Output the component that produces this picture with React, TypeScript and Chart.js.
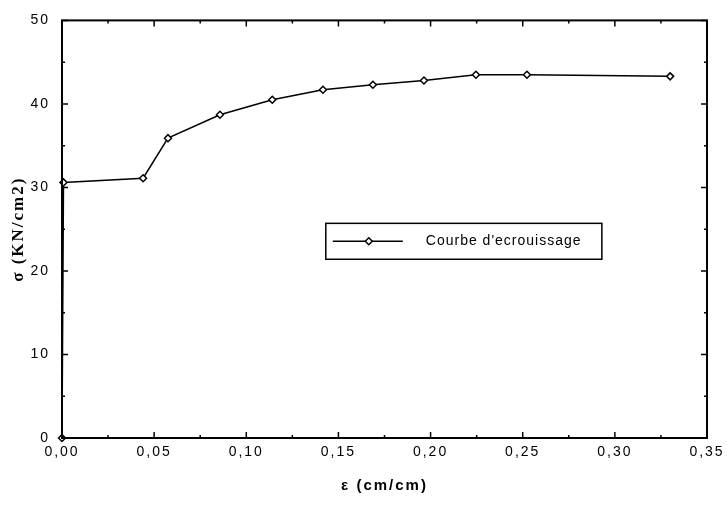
import React, { useEffect, useRef } from "react";
import { Chart, registerables } from "chart.js";

Chart.register(...registerables);

const strain = [0, 0.0008, 0.044, 0.0575, 0.0857, 0.1141, 0.1416, 0.1687, 0.1964, 0.2246, 0.2523, 0.33];
const stress = [0, 30.6, 31.1, 35.9, 38.7, 40.5, 41.7, 42.3, 42.8, 43.5, 43.5, 43.3];
const seriesLabel = "Courbe d'ecrouissage";
const xTitle = "ε (cm/cm)";
const yTitle = "σ (KN/cm2)";
const xMajor = [0, 0.05, 0.1, 0.15, 0.2, 0.25, 0.3, 0.35];
const xMinor = [0.025, 0.075, 0.125, 0.175, 0.225, 0.275, 0.325];
const yMajor = [0, 10, 20, 30, 40, 50];
const yMinor = [5, 15, 25, 35, 45];

const framePlugin = {
  id: "frameTicks",
  beforeDraw(chart: any) {
    chart.ctx.letterSpacing = "2px";
  },
  afterDatasetsDraw(chart: any) {
    const { ctx, chartArea: a, scales } = chart;
    const xs = scales.x;
    const ys = scales.y;
    ctx.save();
    ctx.strokeStyle = "#000";
    ctx.lineWidth = 1.5;
    ctx.beginPath();
    xMajor.forEach((v) => {
      const px = xs.getPixelForValue(v);
      ctx.moveTo(px, a.bottom); ctx.lineTo(px, a.bottom - 6);
      ctx.moveTo(px, a.top); ctx.lineTo(px, a.top + 6);
    });
    xMinor.forEach((v) => {
      const px = xs.getPixelForValue(v);
      ctx.moveTo(px, a.bottom); ctx.lineTo(px, a.bottom - 3);
      ctx.moveTo(px, a.top); ctx.lineTo(px, a.top + 3);
    });
    yMajor.forEach((v) => {
      const py = ys.getPixelForValue(v);
      ctx.moveTo(a.left, py); ctx.lineTo(a.left + 6, py);
      ctx.moveTo(a.right, py); ctx.lineTo(a.right - 6, py);
    });
    yMinor.forEach((v) => {
      const py = ys.getPixelForValue(v);
      ctx.moveTo(a.left, py); ctx.lineTo(a.left + 3, py);
      ctx.moveTo(a.right, py); ctx.lineTo(a.right - 3, py);
    });
    ctx.stroke();
    ctx.lineWidth = 2;
    ctx.strokeRect(a.left, a.top, a.right - a.left, a.bottom - a.top);

    // legend box
    const w = a.right - a.left;
    const h = a.bottom - a.top;
    const bx0 = a.left + 0.409 * w;
    const bx1 = a.left + 0.837 * w;
    const by0 = a.top + 0.486 * h;
    const by1 = a.top + 0.572 * h;
    ctx.lineWidth = 1.5;
    ctx.strokeRect(bx0, by0, bx1 - bx0, by1 - by0);
    const my = (by0 + by1) / 2;
    ctx.beginPath();
    ctx.moveTo(bx0 + 7, my);
    ctx.lineTo(bx0 + 77, my);
    ctx.stroke();
    const mx = bx0 + 43;
    ctx.beginPath();
    ctx.moveTo(mx, my - 3.5);
    ctx.lineTo(mx + 3.5, my);
    ctx.lineTo(mx, my + 3.5);
    ctx.lineTo(mx - 3.5, my);
    ctx.closePath();
    ctx.fillStyle = "#fff";
    ctx.fill();
    ctx.stroke();
    ctx.letterSpacing = "1px";
    ctx.fillStyle = "#000";
    ctx.font = "14px 'Liberation Sans', Arial, sans-serif";
    ctx.textAlign = "left";
    ctx.textBaseline = "middle";
    ctx.fillText(seriesLabel, bx0 + 100, my);
    ctx.restore();
  },
};

export default function App() {
  const ref = useRef<HTMLCanvasElement | null>(null);
  useEffect(() => {
    if (!ref.current) return;
    const chart = new Chart(ref.current, {
      type: "line",
      data: {
        labels: strain,
        datasets: [
          {
            label: seriesLabel,
            data: strain.map((x, i) => ({ x, y: stress[i] })),
            borderColor: "#000",
            borderWidth: 1.5,
            pointStyle: "rectRot",
            pointRadius: 3.5,
            pointBackgroundColor: "#fff",
            pointBorderColor: "#000",
            pointBorderWidth: 1.5,
            tension: 0,
            clip: false,
          } as any,
        ],
      },
      options: {
        animation: false,
        responsive: true,
        maintainAspectRatio: false,
        layout: { padding: { top: 10, right: 20, left: 0, bottom: 0 } },
        plugins: { legend: { display: false }, tooltip: { enabled: false } },
        scales: {
          x: {
            type: "linear",
            min: 0,
            max: 0.35,
            grid: { display: false, drawTicks: false },
            border: { display: false },
            ticks: {
              stepSize: 0.05,
              padding: 6,
              color: "#000",
              maxRotation: 0,
              autoSkip: false,
              font: { family: "'Liberation Sans', Arial, sans-serif", size: 14 },
              callback: (v: any) => Number(v).toFixed(2).replace(".", ","),
            },
            title: {
              display: true,
              text: xTitle,
              color: "#000",
              padding: { top: 0, bottom: 12 },
              font: { family: "'Liberation Sans', Arial, sans-serif", size: 15, weight: "bold" },
            },
            afterFit: (s: any) => { s.height = 69; },
          },
          y: {
            type: "linear",
            min: 0,
            max: 50,
            grid: { display: false, drawTicks: false },
            border: { display: false },
            ticks: {
              stepSize: 10,
              padding: 12,
              color: "#000",
              font: { family: "'Liberation Sans', Arial, sans-serif", size: 14 },
            },
            title: {
              display: true,
              text: yTitle,
              color: "#000",
              padding: { top: 8, bottom: 0 },
              font: { family: "'Liberation Serif', 'Times New Roman', serif", size: 17, weight: "bold" },
            },
            afterFit: (s: any) => { s.width = 62; },
          },
        },
      },
      plugins: [framePlugin],
    });
    return () => chart.destroy();
  }, []);
  return (
    <div style={{ position: "fixed", left: 0, top: 0, width: 727, height: 507, background: "#fff" }}>
      <canvas ref={ref} />
    </div>
  );
}
